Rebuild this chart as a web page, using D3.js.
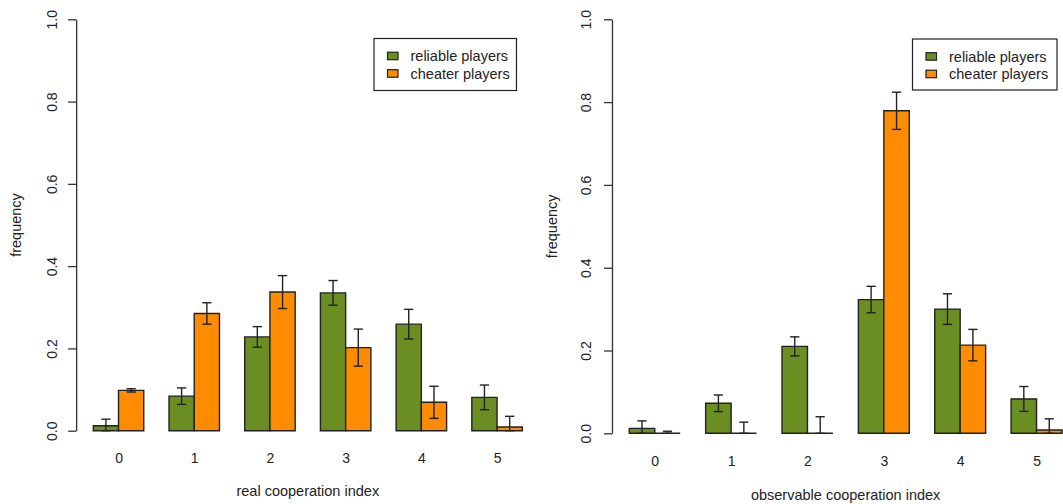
<!DOCTYPE html>
<html>
<head>
<meta charset="utf-8">
<script src="https://cdn.jsdelivr.net/npm/d3@7"></script>
<style>
  html, body { margin: 0; padding: 0; background: #fff; }
  svg { display: block; }
  text { font-family: "Liberation Sans", Arial, sans-serif; fill: #222; }
</style>
</head>
<body>
<svg id="chart" width="1063" height="504"></svg>
<script>
// ---- data ----
const categories = ["0", "1", "2", "3", "4", "5"];
const seriesNames = ["reliable players", "cheater players"];
const seriesColors = ["#6B8E23", "#FF8C00"];
const yTicks = [0, 0.2, 0.4, 0.6, 0.8, 1.0];

const realReliable    = [0.012, 0.084, 0.228, 0.335, 0.259, 0.081];
const realReliableErr = [0.016, 0.020, 0.025, 0.030, 0.036, 0.030];
const realCheater     = [0.098, 0.285, 0.337, 0.202, 0.069, 0.009];
const realCheaterErr  = [0.004, 0.026, 0.040, 0.045, 0.039, 0.026];

const obsReliable     = [0.012, 0.0725, 0.210, 0.323, 0.300, 0.083];
const obsReliableErr  = [0.018, 0.020, 0.023, 0.032, 0.037, 0.030];
const obsCheater      = [0.000, 0.000, 0.000, 0.779, 0.213, 0.008];
const obsCheaterErr   = [0.005, 0.027, 0.040, 0.045, 0.038, 0.027];

const svg = d3.select("#chart");

function drawPanel(cfg) {
  const g = svg.append("g");
  // x in "bar units" like R barplot(beside=TRUE): bars at 1+3i+j .. 2+3i+j
  const x = d3.scaleLinear().domain([1, 18]).range([cfg.xFirst, cfg.xLast]);
  const y = d3.scaleLinear().domain([0, 1]).range([cfg.y0, cfg.y1]);
  const axisX = x(0.32);

  // y axis
  const yAxis = g.append("g")
    .attr("transform", `translate(${axisX},0)`)
    .call(d3.axisLeft(y).tickValues(yTicks).tickFormat(d3.format(".1f")).tickSize(8).tickSizeOuter(0));
  yAxis.select(".domain").attr("stroke", "#333").attr("stroke-width", 1.3);
  yAxis.selectAll(".tick line").attr("stroke", "#333").attr("stroke-width", 1.3);
  yAxis.selectAll(".tick text")
    .attr("transform", "rotate(-90)")
    .attr("x", 0).attr("y", -cfg.tickLabelOff).attr("dy", 0)
    .attr("text-anchor", "middle")
    .style("font-size", "14px")
    .style("font-family", '"Liberation Sans", Arial, sans-serif')
    .attr("fill", "#222");

  // x category labels
  const xAxis = g.append("g")
    .attr("transform", `translate(0,${cfg.xLabelY})`)
    .call(d3.axisBottom(x).tickValues(categories.map((c, i) => 2 + 3 * i))
      .tickFormat((d, i) => categories[i]).tickSize(0));
  xAxis.select(".domain").remove();
  xAxis.selectAll(".tick text")
    .attr("y", 0).attr("dy", 0)
    .style("font-size", "14px")
    .style("font-family", '"Liberation Sans", Arial, sans-serif')
    .attr("fill", "#222");

  const series = [cfg.s0, cfg.s1];
  const errs = [cfg.e0, cfg.e1];

  // bars
  series.forEach((vals, j) => {
    g.append("g").selectAll("path")
      .data(vals)
      .join("path")
      .attr("d", (v, i) => {
        const xl = x(1 + 3 * i + j), xr = x(2 + 3 * i + j);
        const yt = y(v), yb = y(0);
        return `M${xl},${yb}L${xl},${yt}L${xr},${yt}L${xr},${yb}Z`;
      })
      .attr("fill", seriesColors[j])
      .attr("stroke", "#222")
      .attr("stroke-width", 1.4);
  });

  // error bars
  const cap = 4.6;
  series.forEach((vals, j) => {
    const eg = g.append("g").attr("stroke", "#222").attr("stroke-width", 1.4).attr("fill", "none");
    vals.forEach((v, i) => {
      const cx = x(1.5 + 3 * i + j);
      const lo = y(Math.max(0, v - errs[j][i]));
      const hi = y(v + errs[j][i]);
      eg.append("line").attr("x1", cx).attr("x2", cx).attr("y1", lo).attr("y2", hi);
      eg.append("line").attr("x1", cx - cap).attr("x2", cx + cap).attr("y1", hi).attr("y2", hi);
      eg.append("line").attr("x1", cx - cap).attr("x2", cx + cap).attr("y1", lo).attr("y2", lo);
    });
  });

  // axis titles
  g.append("text")
    .attr("x", (x(0.32) + x(18.68)) / 2).attr("y", cfg.xTitleY)
    .attr("text-anchor", "middle")
    .style("font-size", "14.5px")
    .text(cfg.xTitle);
  g.append("text")
    .attr("transform", `translate(${cfg.yTitleX},${(y(0) + y(1)) / 2}) rotate(-90)`)
    .attr("text-anchor", "middle")
    .style("font-size", "14.5px")
    .text("frequency");

  // legend
  const lg = g.append("g");
  lg.append("rect")
    .attr("x", cfg.legX).attr("y", cfg.legY)
    .attr("width", cfg.legW).attr("height", cfg.legH)
    .attr("fill", "#fff").attr("stroke", "#222").attr("stroke-width", 1.2);
  seriesNames.forEach((name, j) => {
    const cy = cfg.legY + 17.5 + j * 17.5;
    lg.append("rect")
      .attr("x", cfg.legX + 13.5).attr("y", cy - 3.8)
      .attr("width", 10.5).attr("height", 7.5)
      .attr("fill", seriesColors[j]).attr("stroke", "#222").attr("stroke-width", 1.2);
    lg.append("text")
      .attr("x", cfg.legX + 36.5).attr("y", cy + 5)
      .style("font-size", "14.5px")
      .text(name);
  });
}

drawPanel({
  xFirst: 93.3, xLast: 522.3, y0: 430.7, y1: 19.3,
  tickLabelOff: 19, xLabelY: 463, xTitleY: 496, yTitleX: 21,
  xTitle: "real cooperation index",
  s0: realReliable, e0: realReliableErr, s1: realCheater, e1: realCheaterErr,
  legX: 374, legY: 38.5, legW: 142.5, legH: 52
});

drawPanel({
  xFirst: 629.3, xLast: 1062, y0: 433.3, y1: 19.3,
  tickLabelOff: 20.5, xLabelY: 466, xTitleY: 499.5, yTitleX: 557,
  xTitle: "observable cooperation index",
  s0: obsReliable, e0: obsReliableErr, s1: obsCheater, e1: obsCheaterErr,
  legX: 912.5, legY: 39, legW: 144.5, legH: 51
});
</script>
</body>
</html>
